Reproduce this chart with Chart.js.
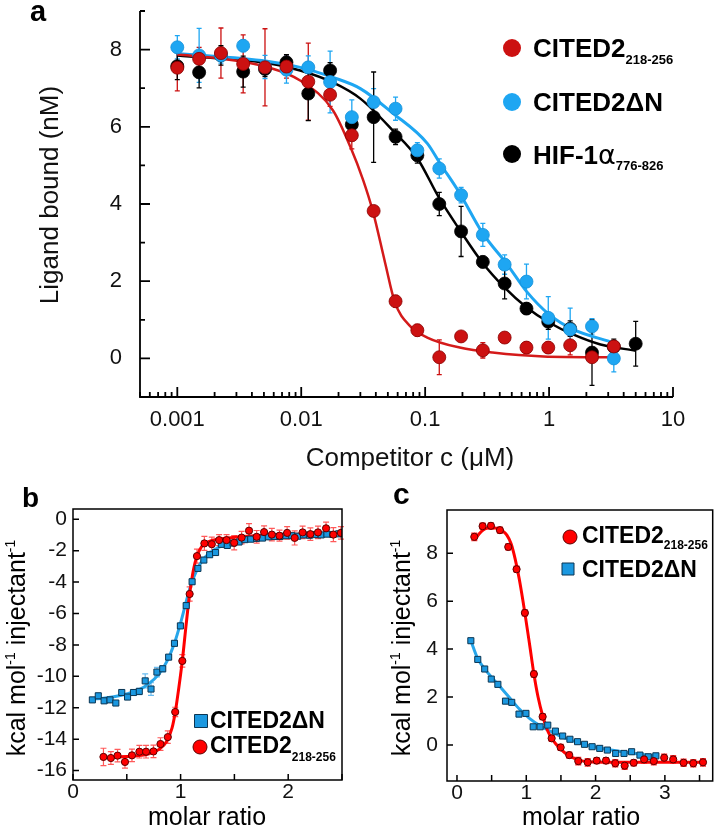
<!DOCTYPE html>
<html><head><meta charset="utf-8">
<script src="https://cdn.jsdelivr.net/npm/chart.js@4"></script>
<style>
body{margin:0;background:#fff;}
#wrap{position:relative;width:718px;height:830px;overflow:hidden;}
canvas{position:absolute;}
</style></head>
<body><div id="wrap">
<canvas id="ca" width="718" height="470" style="left:0;top:0;width:718px;height:470px"></canvas>
<canvas id="cb" width="360" height="360" style="left:0;top:470px;width:360px;height:360px"></canvas>
<canvas id="cc" width="358" height="360" style="left:360px;top:470px;width:358px;height:360px"></canvas>
</div>
<script>
// ---------------- Panel a data ----------------
const concA = [0.001, 0.0015, 0.00225, 0.0034, 0.0051, 0.0076, 0.0114, 0.0171, 0.0256, 0.0384, 0.0577, 0.0865, 0.13, 0.195, 0.292, 0.438, 0.657, 0.985, 1.48, 2.22, 3.33, 5.0];
const redA      = [7.53, 7.76, 7.91, 7.63, 7.54, 7.56, 7.17, 6.83, 5.78, 3.82, 1.48, 0.73, 0.03, 0.57, 0.21, 0.54, 0.28, 0.28, 0.34, 0.03, 0.31];
const redAErr   = [0.6, 0.3, 0.65, 0.75, 1.0, 0.3, 1.0, 0.3, 0.35, 0.1, 0.15, 0.15, 0.45, 0.1, 0.2, 0.1, 0.15, 0.15, 0.25, 0.1, 0.1];
const blueA     = [8.06, 7.85, 7.85, 8.1, 7.55, 7.48, 7.54, 7.16, 6.25, 6.64, 6.47, 5.39, 4.92, 4.23, 3.2, 2.43, 1.99, 1.05, 0.75, 0.83, 0.0];
const blueAErr  = [0.3, 0.7, 0.2, 0.15, 0.3, 0.35, 0.3, 0.8, 0.45, 0.35, 0.3, 0.2, 0.25, 0.2, 0.3, 0.25, 0.45, 0.55, 0.55, 0.2, 0.35];
const blackA    = [7.57, 7.41, 7.85, 7.43, 7.5, 7.67, 6.86, 7.46, 6.06, 6.25, 5.74, 5.26, 4.0, 3.29, 2.5, 1.94, 1.29, 0.95, 0.77, 0.15, 0.3, 0.38];
const blackAErr = [0.35, 0.4, 0.25, 0.4, 0.2, 0.2, 0.7, 0.2, 0.3, 1.17, 0.2, 0.2, 0.3, 0.65, 0.15, 0.4, 0.15, 0.2, 0.2, 0.85, 0.2, 0.58];
const fitRedAX   = [0.001, 0.0022, 0.0053, 0.0098, 0.018, 0.025, 0.0316, 0.038, 0.0475, 0.057, 0.076, 0.104, 0.19, 0.35, 0.9, 3.3];
const fitRedAY   = [7.87, 7.77, 7.55, 7.2, 6.43, 5.47, 4.62, 3.79, 2.48, 1.45, 0.83, 0.54, 0.28, 0.15, 0.05, 0.03];
const fitBlueAX  = [0.001, 0.0053, 0.0098, 0.018, 0.03, 0.055, 0.104, 0.132, 0.19, 0.29, 0.46, 0.66, 1.0, 1.56, 3.3];
const fitBlueAY  = [7.9, 7.7, 7.54, 7.28, 6.99, 6.35, 5.57, 5.05, 4.28, 3.25, 2.43, 1.73, 1.14, 0.75, 0.41];
const fitBlackAX = [0.001, 0.0053, 0.0098, 0.018, 0.03, 0.055, 0.086, 0.13, 0.19, 0.29, 0.43, 0.66, 1.0, 1.56, 2.6, 5.0];
const fitBlackAY = [7.85, 7.65, 7.46, 7.15, 6.73, 5.9, 5.2, 4.15, 3.33, 2.48, 1.86, 1.32, 0.93, 0.62, 0.36, 0.2];
const xTickValsA = [0.001, 0.01, 0.1, 1, 10];
const xTickLabsA = ['0.001', '0.01', '0.1', '1', '10'];
const yTickLabsA = [0, 2, 4, 6, 8];

// ---------------- Panel b data ----------------
const bBlueX = [0.18,0.235,0.289,0.344,0.398,0.453,0.507,0.562,0.616,0.671,0.725,0.78,0.834,0.889,0.943,0.998,1.052,1.107,1.161,1.216,1.27,1.325,1.379,1.434,1.488,1.543,1.597,1.652,1.706,1.761,1.815,1.87,1.924,1.979,2.033,2.088,2.142,2.197,2.251,2.306,2.36,2.415,2.469];
const bBlueY = [-11.5,-11.24,-11.56,-11.5,-11.7,-11.03,-11.32,-11.03,-10.96,-10.29,-10.81,-9.73,-9.52,-8.78,-7.9,-6.79,-5.5,-3.98,-3.13,-2.6,-2.26,-2.12,-1.6,-1.67,-1.52,-1.45,-1.3,-1.27,-1.22,-1.2,-1.12,-1.1,-1.1,-1.05,-1.05,-1.08,-1.0,-1.02,-0.98,-1.0,-0.95,-0.97,-0.93];
const bBlueErr = [0.15,0.15,0.15,0.15,0.15,0.15,0.15,0.15,0.2,0.45,0.4,0.3,0.2,0.15,0.15,0.15,0.15,0.15,0.15,0.15,0.15,0.15,0.15,0.15,0.15,0.15,0.15,0.15,0.15,0.15,0.15,0.15,0.15,0.15,0.15,0.15,0.15,0.15,0.15,0.15,0.15,0.15,0.15];
const bRedX = [0.283,0.352,0.414,0.483,0.548,0.617,0.679,0.748,0.813,0.881,0.95,1.016,1.084,1.152,1.221,1.29,1.358,1.427,1.498,1.567,1.636,1.707,1.776,1.848,1.919,1.99,2.06,2.134,2.206,2.277,2.352,2.42,2.49];
const bRedY = [-15.13,-15.2,-15.05,-15.45,-15.03,-14.8,-14.8,-14.78,-14.31,-13.87,-12.27,-9.02,-4.76,-2.35,-1.54,-1.59,-1.33,-1.33,-1.5,-1.17,-0.73,-1.12,-0.82,-0.98,-1.05,-0.87,-1.19,-0.84,-0.95,-0.84,-0.58,-0.98,-0.87];
const bRedErr = [0.55,0.4,0.4,0.4,0.4,0.4,0.4,0.4,0.4,0.4,0.3,0.4,0.45,0.45,0.45,0.45,0.35,0.35,0.45,0.4,0.45,0.4,0.4,0.4,0.35,0.4,0.45,0.4,0.4,0.4,0.4,0.45,0.4];
const fitBBlueX = [0.18,0.3,0.45,0.6,0.7,0.8,0.88,0.94,1.0,1.05,1.1,1.15,1.2,1.27,1.35,1.45,1.6,1.8,2.0,2.25,2.5];
const fitBBlueY = [-11.45,-11.38,-11.2,-10.9,-10.5,-9.85,-8.95,-7.95,-6.6,-5.3,-4.1,-3.25,-2.65,-2.15,-1.8,-1.55,-1.33,-1.17,-1.08,-1.0,-0.95];
const fitBRedX = [0.283,0.5,0.7,0.8,0.87,0.92,0.95,0.98,1.016,1.05,1.084,1.12,1.152,1.2,1.25,1.3,1.5,1.8,2.1,2.5];
const fitBRedY = [-15.15,-15.1,-14.95,-14.65,-14.15,-13.3,-12.3,-10.9,-9.0,-6.8,-4.76,-3.2,-2.35,-1.7,-1.45,-1.33,-1.15,-1.02,-0.95,-0.9];
const xTickValsB = [0,0.5,1,1.5,2,2.5];
const xTickLabsB = [0,1,2];
const yTickValsB = [-16,-14,-12,-10,-8,-6,-4,-2,0];

// ---------------- Panel c data ----------------
const cRedX = [0.25,0.37,0.49,0.62,0.74,0.86,0.98,1.11,1.236,1.366,1.496,1.62,1.75,1.886,2.016,2.15,2.284,2.42,2.55,2.70,2.84,2.99,3.12,3.27,3.41,3.55];
const cRedY = [8.68,9.125,9.14,8.96,8.26,7.33,5.51,2.96,1.18,0.28,-0.1,-0.42,-0.67,-0.72,-0.65,-0.65,-0.76,-0.86,-0.74,-0.6,-0.67,-0.53,-0.6,-0.74,-0.76,-0.72];
const cRedErr = [0.15,0.12,0.12,0.12,0.12,0.12,0.12,0.12,0.12,0.12,0.12,0.12,0.15,0.15,0.12,0.12,0.15,0.15,0.12,0.15,0.15,0.15,0.15,0.15,0.15,0.15];
const cBlueX = [0.20,0.30,0.40,0.495,0.59,0.70,0.79,0.895,0.995,1.10,1.20,1.31,1.42,1.525,1.63,1.74,1.84,1.95,2.06,2.17,2.29,2.41,2.52,2.64,2.76,2.87];
const cBlueY = [4.35,3.57,3.17,2.75,2.53,1.83,1.78,1.29,1.32,0.76,0.76,0.83,0.58,0.375,0.24,0.14,0.03,-0.07,-0.14,-0.21,-0.35,-0.35,-0.28,-0.42,-0.49,-0.45];
const fitCRedX = [0.25,0.35,0.45,0.55,0.65,0.72,0.78,0.84,0.9,0.98,1.05,1.11,1.17,1.24,1.3,1.366,1.43,1.5,1.6,1.75,1.9,2.2,2.6,3.0,3.58];
const fitCRedY = [8.55,8.9,9.05,9.05,8.95,8.75,8.4,7.75,6.9,5.5,4.15,2.96,2.0,1.18,0.65,0.28,0.03,-0.18,-0.42,-0.62,-0.7,-0.72,-0.72,-0.72,-0.72];
const fitCBlueX = [0.2,0.3,0.42,0.6,0.75,0.9,1.05,1.2,1.4,1.55,1.75,1.95,2.2,2.5,2.88];
const fitCBlueY = [4.35,3.6,3.1,2.5,2.0,1.5,1.1,0.8,0.5,0.3,0.1,-0.05,-0.2,-0.33,-0.45];
const xTickValsC = [0,0.5,1,1.5,2,2.5,3,3.5];
const xTickLabsC = [0,1,2,3];
const yTickValsC = [0,2,4,6,8];

// ---------------- Colours ----------------
const RED_A = '#cc1111', BLUE_A = '#1ea6f2', BLACK_A = '#000000';
const RED_B = '#ff0000', BLUE_B = '#1b98e0', BLUE_LINE = '#27a6ea';

// ---------------- helpers ----------------
const FONT = "'Liberation Sans', Arial, sans-serif";
Chart.defaults.font.family = FONT;
Chart.defaults.color = '#111';
const pts = (xs, ys) => ys.map((y, i) => ({x: xs[i], y}));
const near = (a, b) => Math.abs(a - b) < 1e-9 * Math.max(1, Math.abs(a), Math.abs(b));
const fitX = h => s => { s.height = h; s.paddingLeft = 0; s.paddingRight = 0; };
const fitY = w => s => { s.width = w; s.paddingTop = 0; s.paddingBottom = 0; };

const errPlugin = {
  id: 'errbars',
  beforeDatasetsDraw(chart) {
    const ctx = chart.ctx, ys = chart.scales.y;
    chart.data.datasets.forEach((ds, i) => {
      if (!ds.errors) return;
      const meta = chart.getDatasetMeta(i);
      ctx.save();
      ctx.strokeStyle = ds.errColor; ctx.lineWidth = ds.errWidth || 1.3;
      meta.data.forEach((p, j) => {
        const e = ds.errors[j]; if (!e) return;
        const v = ds.data[j].y;
        const y1 = ys.getPixelForValue(v + e), y2 = ys.getPixelForValue(v - e);
        const cw = ds.capW || 2.5;
        ctx.beginPath();
        ctx.moveTo(p.x, y1); ctx.lineTo(p.x, y2);
        ctx.moveTo(p.x - cw, y1); ctx.lineTo(p.x + cw, y1);
        ctx.moveTo(p.x - cw, y2); ctx.lineTo(p.x + cw, y2);
        ctx.stroke();
      });
      ctx.restore();
    });
  }
};

function framePlugin(cfg) {
  return {
    id: 'frame',
    afterDraw(chart) {
      const {ctx, chartArea: ca} = chart;
      ctx.save();
      ctx.strokeStyle = '#000'; ctx.lineWidth = cfg.lw;
      ctx.beginPath();
      if (cfg.box) ctx.rect(ca.left, ca.top, ca.right - ca.left, ca.bottom - ca.top);
      else { ctx.moveTo(ca.left, ca.top); ctx.lineTo(ca.left, ca.bottom); ctx.lineTo(ca.right, ca.bottom); }
      ctx.stroke();
      ['x', 'y'].forEach(id => {
        const s = chart.scales[id], c = cfg[id];
        ctx.beginPath();
        s.ticks.forEach(t => {
          const p = s.getPixelForValue(t.value);
          const len = c.majors.some(m => near(m, t.value)) ? c.major : c.minor;
          if (id === 'x') { ctx.moveTo(p, ca.bottom); ctx.lineTo(p, ca.bottom - len); }
          else { ctx.moveTo(ca.left, p); ctx.lineTo(ca.left + len, p); }
        });
        ctx.stroke();
      });
      ctx.restore();
    }
  };
}

function textPlugin(items, marks) {
  return {
    id: 'texts',
    afterDraw(chart) {
      const ctx = chart.ctx;
      (marks || []).forEach(m => {
        ctx.save();
        ctx.fillStyle = m.fill; ctx.strokeStyle = m.stroke; ctx.lineWidth = m.lw || 1;
        ctx.beginPath();
        if (m.shape === 'square') ctx.rect(m.x - m.r, m.y - m.r, 2 * m.r, 2 * m.r);
        else ctx.arc(m.x, m.y, m.r, 0, Math.PI * 2);
        ctx.fill(); if (m.stroke) ctx.stroke();
        ctx.restore();
      });
      items.forEach(it => {
        ctx.save();
        ctx.translate(it.x, it.y);
        if (it.rot) ctx.rotate(it.rot);
        ctx.textAlign = 'left'; ctx.textBaseline = 'alphabetic';
        let total = 0;
        it.parts.forEach(p => { ctx.font = p.f; total += ctx.measureText(p.t).width; });
        let x = it.align === 'center' ? -total / 2 : 0;
        it.parts.forEach(p => {
          ctx.font = p.f; ctx.fillStyle = p.c || '#000';
          ctx.fillText(p.t, x, p.dy || 0);
          x += ctx.measureText(p.t).width;
        });
        ctx.restore();
      });
    }
  };
}

const baseOpts = {
  responsive: false, animation: false, events: [],
  plugins: {legend: {display: false}, tooltip: {enabled: false}}
};

// ---------------- Chart a ----------------
const logTicksA = [];
[-4, -3, -2, -1, 0, 1].forEach(e => {
  [1, 2, 3, 4, 5, 6, 7, 8, 9].forEach(k => {
    const v = parseFloat((k * Math.pow(10, e)).toPrecision(4));
    if (v >= 0.0005 - 1e-12 && v <= 10 + 1e-9) logTicksA.push(v);
  });
});
const yTicksA = [-1, 0, 1, 2, 3, 4, 5, 6, 7, 8, 9];

new Chart(document.getElementById('ca'), {
  type: 'scatter',
  data: {datasets: [
    {data: pts(concA, redA), errors: redAErr, errColor: RED_A, backgroundColor: RED_A, borderColor: '#8a0000', borderWidth: 0.8, pointRadius: 6.5},
    {data: pts(concA, blueA), errors: blueAErr, errColor: BLUE_A, backgroundColor: BLUE_A, borderColor: '#1590d8', borderWidth: 0.8, pointRadius: 6.5},
    {data: pts(concA, blackA), errors: blackAErr, errColor: BLACK_A, backgroundColor: BLACK_A, borderColor: '#000', borderWidth: 0.8, pointRadius: 6.5},
    {data: pts(fitRedAX, fitRedAY), showLine: true, pointRadius: 0, borderColor: '#d41a1a', borderWidth: 2.5, cubicInterpolationMode: 'monotone'},
    {data: pts(fitBlueAX, fitBlueAY), showLine: true, pointRadius: 0, borderColor: BLUE_A, borderWidth: 3, cubicInterpolationMode: 'monotone'},
    {data: pts(fitBlackAX, fitBlackAY), showLine: true, pointRadius: 0, borderColor: '#000', borderWidth: 2.5, cubicInterpolationMode: 'monotone'}
  ]},
  options: {
    ...baseOpts,
    layout: {padding: {left: 0, top: 11, right: 45, bottom: 0}},
    scales: {
      x: {type: 'logarithmic', min: 0.0005, max: 10,
          grid: {display: false, drawTicks: false}, border: {display: false},
          afterBuildTicks: s => { s.ticks = logTicksA.map(v => ({value: v})); },
          afterFit: fitX(73),
          ticks: {autoSkip: false, maxRotation: 0, padding: 10, font: {size: 22}, color: '#111',
            callback: v => { const i = xTickValsA.findIndex(t => near(t, v)); return i >= 0 ? xTickLabsA[i] : ''; }}},
      y: {min: -1, max: 9,
          grid: {display: false, drawTicks: false}, border: {display: false},
          afterBuildTicks: s => { s.ticks = yTicksA.map(v => ({value: v})); },
          afterFit: fitY(140),
          ticks: {autoSkip: false, padding: 18, font: {size: 22}, color: '#111',
            callback: v => yTickLabsA.includes(v) ? String(v) : ''}}
    }
  },
  plugins: [errPlugin,
    framePlugin({box: false, lw: 1.8, x: {majors: xTickValsA, major: 10, minor: 5}, y: {majors: yTickLabsA, major: 10, minor: 5}}),
    textPlugin([
      {x: 30, y: 21, parts: [{t: 'a', f: `bold 29px ${FONT}`}]},
      {x: 58, y: 195, rot: -Math.PI / 2, align: 'center', parts: [{t: 'Ligand bound (nM)', f: `26px ${FONT}`, c: '#111'}]},
      {x: 410, y: 466, align: 'center', parts: [{t: 'Competitor c (\u03bcM)', f: `26px ${FONT}`, c: '#111'}]},
      {x: 533, y: 57, parts: [{t: 'CITED2', f: `bold 26px ${FONT}`}, {t: '218-256', f: `bold 13px ${FONT}`, dy: 7}]},
      {x: 533, y: 111, parts: [{t: 'CITED2\u0394N', f: `bold 26px ${FONT}`}]},
      {x: 533, y: 164, parts: [{t: 'HIF-1', f: `bold 26px ${FONT}`}, {t: '\u03b1', f: `27px 'DejaVu Sans', ${FONT}`}, {t: '776-826', f: `bold 13px ${FONT}`, dy: 6}]}
    ], [
      {shape: 'circle', x: 512, y: 48, r: 9, fill: RED_A},
      {shape: 'circle', x: 512, y: 102, r: 9, fill: BLUE_A},
      {shape: 'circle', x: 512, y: 154, r: 9, fill: BLACK_A}
    ])]
});

// ---------------- Chart b ----------------
new Chart(document.getElementById('cb'), {
  type: 'scatter',
  data: {datasets: [
    {data: pts(bRedX, bRedY), errors: bRedErr, errColor: '#ff5a5a', capW: 3, errWidth: 1.2, backgroundColor: RED_B, borderColor: '#5a0000', borderWidth: 1, pointRadius: 3.6},
    {data: pts(bBlueX, bBlueY), errors: bBlueErr, errColor: '#6abcf0', capW: 3, errWidth: 1.2, backgroundColor: BLUE_B, borderColor: '#0b3552', borderWidth: 1, pointStyle: 'rect', pointRadius: 4.3},
    {data: pts(fitBRedX, fitBRedY), showLine: true, pointRadius: 0, borderColor: RED_B, borderWidth: 3, cubicInterpolationMode: 'monotone'},
    {data: pts(fitBBlueX, fitBBlueY), showLine: true, pointRadius: 0, borderColor: BLUE_LINE, borderWidth: 3, cubicInterpolationMode: 'monotone'}
  ]},
  options: {
    ...baseOpts,
    layout: {padding: {left: 0, top: 39, right: 18, bottom: 0}},
    scales: {
      x: {min: 0, max: 2.5,
          grid: {display: false, drawTicks: false}, border: {display: false},
          afterBuildTicks: s => { s.ticks = xTickValsB.map(v => ({value: v})); },
          afterFit: fitX(50),
          ticks: {autoSkip: false, maxRotation: 0, padding: 0, font: {size: 21}, color: '#111',
            callback: v => xTickLabsB.includes(v) ? String(v) : ''}},
      y: {min: -16.6, max: 0.65,
          grid: {display: false, drawTicks: false}, border: {display: false},
          afterBuildTicks: s => { s.ticks = yTickValsB.map(v => ({value: v})); },
          afterFit: fitY(73),
          ticks: {autoSkip: false, padding: 6, font: {size: 21}, color: '#111', callback: v => String(v)}}
    }
  },
  plugins: [errPlugin,
    framePlugin({box: true, lw: 1.5, x: {majors: xTickValsB, major: 6, minor: 6}, y: {majors: yTickValsB, major: 6, minor: 6}}),
    textPlugin([
      {x: 22, y: 37, parts: [{t: 'b', f: `bold 28px ${FONT}`}]},
      {x: 25, y: 178, rot: -Math.PI / 2, align: 'center', parts: [
        {t: 'kcal mol', f: `25px ${FONT}`}, {t: '-1', f: `14px ${FONT}`, dy: -10},
        {t: ' injectant', f: `25px ${FONT}`}, {t: '-1', f: `14px ${FONT}`, dy: -10}]},
      {x: 207, y: 355, align: 'center', parts: [{t: 'molar ratio', f: `25px ${FONT}`}]},
      {x: 210, y: 258, parts: [{t: 'CITED2\u0394N', f: `bold 23px ${FONT}`}]},
      {x: 210, y: 283, parts: [{t: 'CITED2', f: `bold 23px ${FONT}`}, {t: '218-256', f: `bold 12px ${FONT}`, dy: 8}]}
    ], [
      {shape: 'square', x: 201, y: 251, r: 6.5, fill: BLUE_B, stroke: '#0b3552', lw: 1},
      {shape: 'circle', x: 200, y: 277, r: 7, fill: RED_B, stroke: '#5a0000', lw: 1}
    ])]
});

// ---------------- Chart c ----------------
new Chart(document.getElementById('cc'), {
  type: 'scatter',
  data: {datasets: [
    {data: pts(cRedX, cRedY), errors: cRedErr, errColor: '#ff3030', capW: 3, errWidth: 1.5, backgroundColor: RED_B, borderColor: '#5a0000', borderWidth: 1, pointRadius: 3.6},
    {data: pts(cBlueX, cBlueY), backgroundColor: BLUE_B, borderColor: '#0b3552', borderWidth: 1, pointStyle: 'rect', pointRadius: 4.3},
    {data: pts(fitCRedX, fitCRedY), showLine: true, pointRadius: 0, borderColor: RED_B, borderWidth: 3, cubicInterpolationMode: 'monotone'},
    {data: pts(fitCBlueX, fitCBlueY), showLine: true, pointRadius: 0, borderColor: BLUE_LINE, borderWidth: 3, cubicInterpolationMode: 'monotone'}
  ]},
  options: {
    ...baseOpts,
    layout: {padding: {left: 0, top: 40, right: 5, bottom: 0}},
    scales: {
      x: {min: -0.144, max: 3.69,
          grid: {display: false, drawTicks: false}, border: {display: false},
          afterBuildTicks: s => { s.ticks = xTickValsC.map(v => ({value: v})); },
          afterFit: fitX(49),
          ticks: {autoSkip: false, maxRotation: 0, padding: 0, font: {size: 21}, color: '#111',
            callback: v => xTickLabsC.includes(v) ? String(v) : ''}},
      y: {min: -1.5, max: 9.8,
          grid: {display: false, drawTicks: false}, border: {display: false},
          afterBuildTicks: s => { s.ticks = yTickValsC.map(v => ({value: v})); },
          afterFit: fitY(87),
          ticks: {autoSkip: false, padding: 9, font: {size: 21}, color: '#111', callback: v => String(v)}}
    }
  },
  plugins: [errPlugin,
    framePlugin({box: true, lw: 1.5, x: {majors: xTickValsC, major: 6, minor: 6}, y: {majors: yTickValsC, major: 6, minor: 6}}),
    textPlugin([
      {x: 33, y: 34, parts: [{t: 'c', f: `bold 30px ${FONT}`}]},
      {x: 50, y: 178, rot: -Math.PI / 2, align: 'center', parts: [
        {t: 'kcal mol', f: `25px ${FONT}`}, {t: '-1', f: `14px ${FONT}`, dy: -10},
        {t: ' injectant', f: `25px ${FONT}`}, {t: '-1', f: `14px ${FONT}`, dy: -10}]},
      {x: 221, y: 355, align: 'center', parts: [{t: 'molar ratio', f: `25px ${FONT}`}]},
      {x: 222, y: 73, parts: [{t: 'CITED2', f: `bold 23px ${FONT}`}, {t: '218-256', f: `bold 12px ${FONT}`, dy: 6}]},
      {x: 222, y: 107, parts: [{t: 'CITED2\u0394N', f: `bold 23px ${FONT}`}]}
    ], [
      {shape: 'circle', x: 210, y: 67, r: 7, fill: RED_B, stroke: '#5a0000', lw: 1},
      {shape: 'square', x: 208, y: 99, r: 6, fill: BLUE_B, stroke: '#0b3552', lw: 1}
    ])]
});
</script>
</body></html>
